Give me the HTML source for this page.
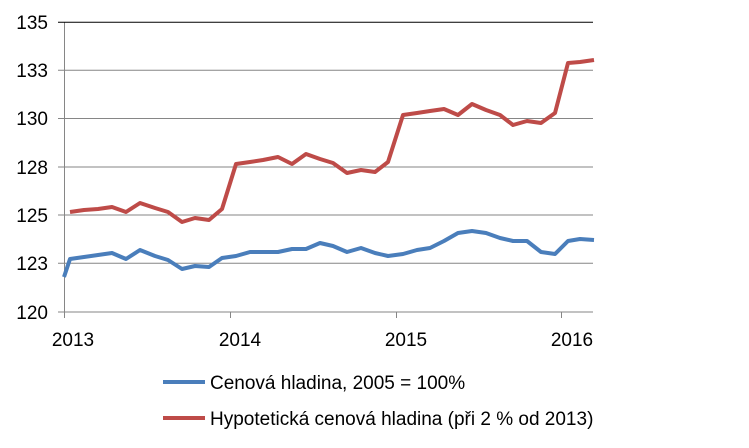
<!DOCTYPE html>
<html><head><style>body{margin:0;background:#fff}svg{display:block}text{font-family:"Liberation Sans",sans-serif;fill:#000}</style></head><body>
<svg width="749" height="448" viewBox="0 0 749 448">
<g stroke="#868686" stroke-width="1">
<line x1="58" y1="70.3" x2="593" y2="70.3"/><line x1="58" y1="118.5" x2="593" y2="118.5"/><line x1="58" y1="167" x2="593" y2="167"/><line x1="58" y1="215" x2="593" y2="215"/><line x1="58" y1="263.3" x2="593" y2="263.3"/><line x1="58" y1="312" x2="593" y2="312"/>
<line x1="64.5" y1="22" x2="64.5" y2="312"/>
<line x1="64.5" y1="312" x2="64.5" y2="318"/><line x1="230.5" y1="312" x2="230.5" y2="318"/><line x1="396.5" y1="312" x2="396.5" y2="318"/><line x1="561.5" y1="312" x2="561.5" y2="318"/>
</g>
<line x1="58" y1="22.3" x2="593" y2="22.3" stroke="#000" stroke-width="1"/>
<g font-size="19" text-anchor="end"><text x="48" y="29">135</text><text x="48" y="77">133</text><text x="48" y="125">130</text><text x="48" y="174">128</text><text x="48" y="222">125</text><text x="48" y="270">123</text><text x="48" y="319">120</text></g>
<g font-size="19" text-anchor="middle"><text x="73" y="346">2013</text><text x="240" y="346">2014</text><text x="406" y="346">2015</text><text x="572" y="346">2016</text></g>
<polyline fill="none" stroke="#be4b48" stroke-width="4" stroke-linejoin="round" points="70,212 84,210 98,209 112,207 126,212 140,203 155,208 168,212 182,222 195,218 209,220 222,209 236,164 250,162 263,160 278,157 292,164 306,154 320,159 333,163 347,173 361,170 375,172 388,162 403,115 417,113 430,111 444,109 458,115 472,104 486,110 500,115 513,125 527,121 541,123 555,113 568,63 580,62 594,60"/>
<polyline fill="none" stroke="#4a7ebb" stroke-width="4" stroke-linejoin="round" points="64,277 70,259 84,257 98,255 112,253 126,259 140,250 155,256 168,260 182,269 195,266 209,267 222,258 236,256 250,252 263,252 278,252 292,249 306,249 320,243 333,246 347,252 361,248 375,253 388,256 403,254 417,250 430,248 444,241 458,233 472,231 486,233 500,238 513,241 527,241 541,252 555,254 568,241 580,239 594,240"/>
<line x1="163" y1="382" x2="205" y2="382" stroke="#4a7ebb" stroke-width="4"/>
<text x="210" y="389" font-size="19">Cenová hladina, 2005 = 100%</text>
<line x1="163" y1="418" x2="205" y2="418" stroke="#be4b48" stroke-width="4"/>
<text x="210" y="425" font-size="19">Hypotetická cenová hladina (při 2 % od 2013)</text>
</svg>
</body></html>
